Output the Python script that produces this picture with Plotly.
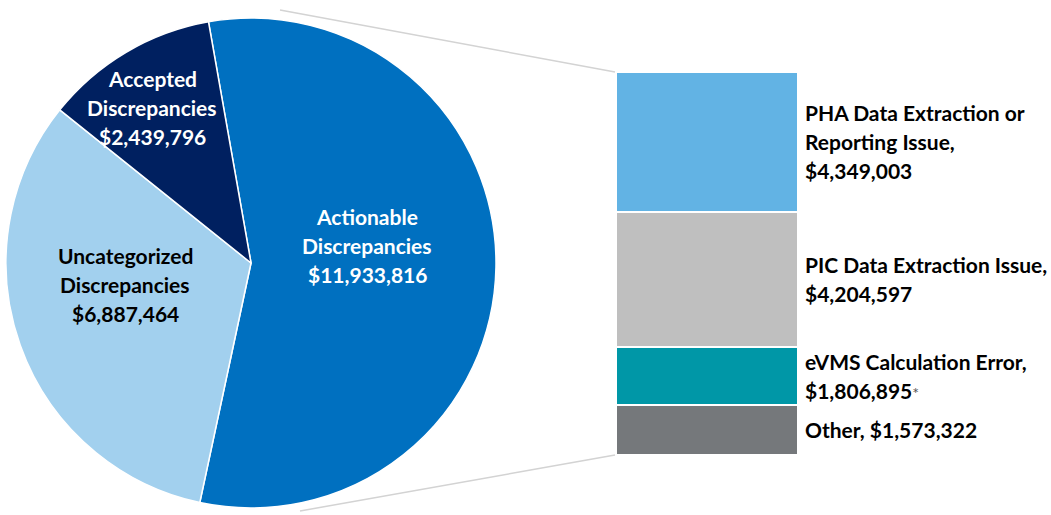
import plotly.graph_objects as go

W, H = 1051, 515

# ---- data ----
pie_labels = ["Actionable Discrepancies", "Uncategorized Discrepancies", "Accepted Discrepancies"]
pie_values = [11933816, 6887464, 2439796]
pie_colors = ["#0070C0", "#A2D0EE", "#002060"]
pie_text_colors = ["white", "black", "white"]

bar_labels = ["PHA Data Extraction or Reporting Issue", "PIC Data Extraction Issue",
              "eVMS Calculation Error", "Other"]
bar_values = [4349003, 4204597, 1806895, 1573322]
bar_colors = ["#62B3E4", "#BFBFBF", "#0097A7", "#75787B"]

# label line layout (text lines only)
pie_label_lines = [["Actionable", "Discrepancies"], ["Uncategorized", "Discrepancies"],
                   ["Accepted", "Discrepancies"]]
bar_label_lines = [["PHA Data Extraction or", "Reporting Issue,"],
                   ["PIC Data Extraction Issue,"],
                   ["eVMS Calculation Error,"],
                   []]
bar_value_suffix = ["", "", "*", ""]

# ---- layout helpers ----
def px(x):
    return x / W

def py(y):
    return 1 - y / H

FONT = "Lato"
FS = 21
LH = 29

fig = go.Figure()

fig.add_trace(go.Pie(
    labels=pie_labels, values=pie_values, sort=False, direction="clockwise",
    rotation=-10, textinfo="none", hoverinfo="label+value",
    marker=dict(colors=pie_colors, line=dict(color="white", width=1.5)),
    domain=dict(x=[px(6), px(496)], y=[py(508), py(18)]),
    showlegend=False,
))

# stacked bar (bottom to top)
for lab, val, col in reversed(list(zip(bar_labels, bar_values, bar_colors))):
    fig.add_trace(go.Bar(
        x=[0], y=[val], name=lab, marker=dict(color=col, line=dict(color="white", width=2)),
        width=1, showlegend=False, xaxis="x", yaxis="y",
    ))

total = sum(bar_values)

# connector lines
fig.add_shape(type="line", xref="paper", yref="paper", x0=px(280), y0=py(10), x1=px(615), y1=py(72),
              line=dict(color="#D3D3D3", width=1.5), layer="below")
fig.add_shape(type="line", xref="paper", yref="paper", x0=px(300), y0=py(511), x1=px(615), y1=py(455),
              line=dict(color="#D3D3D3", width=1.5), layer="below")

annotations = []

# pie labels
pie_label_pos = [(367, 245), (125, 284), (152, 108)]
for lines, val, col, (cx, cy) in zip(pie_label_lines, pie_values, pie_text_colors, pie_label_pos):
    all_lines = lines + [f"${val:,}"]
    n = len(all_lines)
    for i, t in enumerate(all_lines):
        annotations.append(dict(
            x=px(cx), y=py(cy), xref="paper", yref="paper", text=f"<b>{t}</b>",
            showarrow=False, xanchor="center", yanchor="middle",
            yshift=((n - 1) / 2 - i) * LH,
            font=dict(family=FONT, size=FS, color=col),
        ))

# bar labels
cum = total
for lines, val, suf in zip(bar_label_lines, bar_values, bar_value_suffix):
    mid = cum - val / 2
    cum -= val
    if lines:
        all_lines = lines + [f"${val:,}"]
    else:
        all_lines = [f"Other, ${val:,}"]
    n = len(all_lines)
    for i, t in enumerate(all_lines):
        txt = f"<b>{t}</b>"
        if i == n - 1 and suf:
            txt += f"<span style='font-size:16px;color:#555555'>{suf}</span>"
        annotations.append(dict(
            x=px(803), y=mid, xref="paper", yref="y", text=txt,
            showarrow=False, xanchor="left", yanchor="middle",
            yshift=((n - 1) / 2 - i) * LH,
            font=dict(family=FONT, size=FS, color="black"),
        ))

fig.update_layout(
    width=W, height=H, margin=dict(l=0, r=0, t=0, b=0),
    paper_bgcolor="white", plot_bgcolor="rgba(0,0,0,0)",
    barmode="stack", bargap=0,
    xaxis=dict(domain=[px(616), px(798)], range=[-0.5, 0.5], visible=False, fixedrange=True),
    yaxis=dict(domain=[py(455), py(72)], range=[0, total], visible=False, fixedrange=True),
    annotations=annotations,
)

fig.write_html("out.html", config={"displayModeBar": False},
               post_script="document.body.style.margin='0';")
